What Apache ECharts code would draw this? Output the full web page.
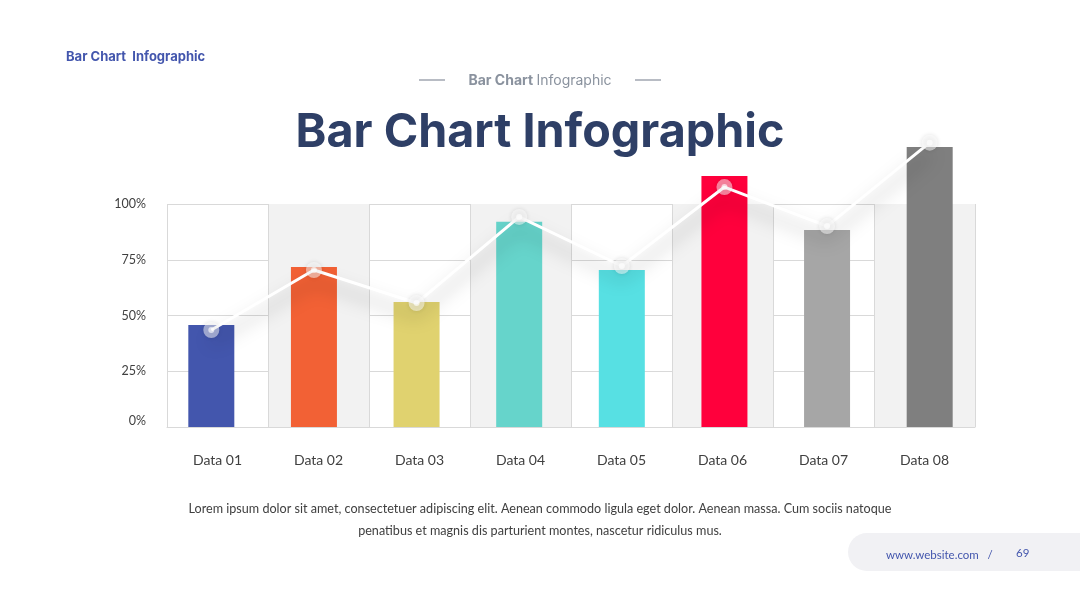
<!DOCTYPE html>
<html>
<head>
<meta charset="utf-8">
<script src="https://cdn.jsdelivr.net/npm/echarts@6/dist/echarts.min.js"></script>
<style>
  html, body { margin: 0; padding: 0; background: #fff; }
  #main { width: 1080px; height: 608px; }
</style>
</head>
<body>
<div id="main"></div>
<script>
// data
var categories = ['Data 01', 'Data 02', 'Data 03', 'Data 04', 'Data 05', 'Data 06', 'Data 07', 'Data 08'];
var barValues = [45.7, 71.7, 56, 92, 70.4, 112.6, 88.3, 125.6];
var lineValues = [43.5, 70.4, 55.6, 94.2, 72.2, 107.6, 90.1, 127.5];
var yTicks = [0, 25, 50, 75, 100];

var barColors = ['#4356ad', '#f26135', '#e0d26f', '#66d4cb', '#57e0e3', '#ff003c', '#a6a6a6', '#7f7f7f'];

var chart = echarts.init(document.getElementById('main'), null, { renderer: 'canvas' });

// grid 0 = striped background with labels, grid 1 = bars + line (slightly wider spacing)
var option = {
  backgroundColor: '#fff',
  animation: false,
  grid: [
    { left: 167, right: 105, top: 204, height: 223 },
    { left: 160, right: 99, top: 204, height: 223 }
  ],
  xAxis: [{
    type: 'category',
    gridIndex: 0,
    data: categories,
    axisTick: { show: false },
    axisLine: { lineStyle: { color: '#d9d9d9' } },
    axisLabel: {
      margin: 26,
      color: '#404040',
      fontFamily: 'Lato',
      fontSize: 14
    },
    splitLine: { show: true, lineStyle: { color: '#d9d9d9' } },
    splitArea: { show: true, areaStyle: { color: ['rgba(255,255,255,0)', '#f2f2f2'] } }
  }, {
    type: 'category',
    gridIndex: 1,
    data: categories,
    show: false
  }],
  yAxis: [{
    type: 'value',
    gridIndex: 0,
    min: yTicks[0],
    max: yTicks[yTicks.length - 1],
    interval: 25,
    axisLine: { show: false },
    axisTick: { show: false },
    axisLabel: {
      margin: 21,
      color: '#404040',
      fontFamily: 'Lato',
      fontSize: 12.5,
      formatter: function (v) {
        return v === 0 ? '{z|0%}' : v + '%';
      },
      rich: {
        z: { fontFamily: 'Lato', fontSize: 12.5, color: '#404040', padding: [0, 0, 12, 0] }
      }
    },
    splitLine: { lineStyle: { color: '#d9d9d9' } }
  }, {
    type: 'value',
    gridIndex: 1,
    min: yTicks[0],
    max: yTicks[yTicks.length - 1],
    show: false
  }],
  series: [{
    type: 'bar',
    xAxisIndex: 1,
    yAxisIndex: 1,
    data: barValues,
    barWidth: 46,
    clip: false,
    itemStyle: {
      color: function (p) { return barColors[p.dataIndex]; }
    },
    z: 2
  }, {
    type: 'line',
    xAxisIndex: 1,
    yAxisIndex: 1,
    data: lineValues,
    clip: false,
    symbol: 'circle',
    symbolSize: 16,
    lineStyle: {
      color: '#fff',
      width: 3,
      shadowColor: 'rgba(0,0,0,0.35)',
      shadowBlur: 18,
      shadowOffsetY: 12
    },
    itemStyle: {
      color: 'rgba(255,255,255,0.5)',
      shadowColor: 'rgba(0,0,0,0.22)',
      shadowBlur: 4
    },
    z: 3
  }, {
    type: 'scatter',
    xAxisIndex: 1,
    yAxisIndex: 1,
    data: lineValues,
    clip: false,
    symbolSize: 6,
    itemStyle: { color: 'rgba(255,255,255,0.8)' },
    z: 4
  }],
  graphic: [
    {
      type: 'text', left: 66, top: 51,
      style: { text: 'Bar Chart  Infographic', fill: '#4356ad', font: 'bold 13px Inter' }
    },
    {
      type: 'line', shape: { x1: 419, y1: 80, x2: 445, y2: 80 },
      style: { stroke: '#a0a6b0', lineWidth: 1.5 }
    },
    {
      type: 'line', shape: { x1: 635, y1: 80, x2: 661, y2: 80 },
      style: { stroke: '#a0a6b0', lineWidth: 1.5 }
    },
    {
      type: 'text', x: 540, y: 81,
      style: {
        text: '{b|Bar Chart} {r|Infographic}',
        align: 'center', verticalAlign: 'middle',
        rich: {
          b: { fill: '#8a929e', font: 'bold 14px Inter' },
          r: { fill: '#8a929e', font: '14px Inter' }
        }
      }
    },
    {
      type: 'text', x: 540, y: 133,
      style: {
        text: 'Bar Chart Infographic',
        align: 'center', verticalAlign: 'middle',
        fill: '#2e3f66', font: 'bold 46.7px Inter'
      }
    },
    {
      type: 'text', x: 540, y: 509,
      style: {
        text: 'Lorem ipsum dolor sit amet, consectetuer adipiscing elit. Aenean commodo ligula eget dolor. Aenean massa. Cum sociis natoque',
        align: 'center', verticalAlign: 'middle',
        fill: '#404040', font: '12.6px Lato'
      }
    },
    {
      type: 'text', x: 540, y: 531,
      style: {
        text: 'penatibus et magnis dis parturient montes, nascetur ridiculus mus.',
        align: 'center', verticalAlign: 'middle',
        fill: '#404040', font: '12.6px Lato'
      }
    },
    {
      type: 'rect', shape: { x: 848, y: 533, width: 260, height: 38, r: 19 },
      style: { fill: '#f1f1f4' }
    },
    {
      type: 'text', x: 886, y: 555,
      style: { text: 'www.website.com   /', verticalAlign: 'middle', fill: '#4356ad', font: '11.5px Lato' }
    },
    {
      type: 'text', x: 1016, y: 553,
      style: { text: '69', verticalAlign: 'middle', fill: '#4356ad', font: '11.5px Lato' }
    }
  ]
};

chart.setOption(option);
</script>
</body>
</html>
